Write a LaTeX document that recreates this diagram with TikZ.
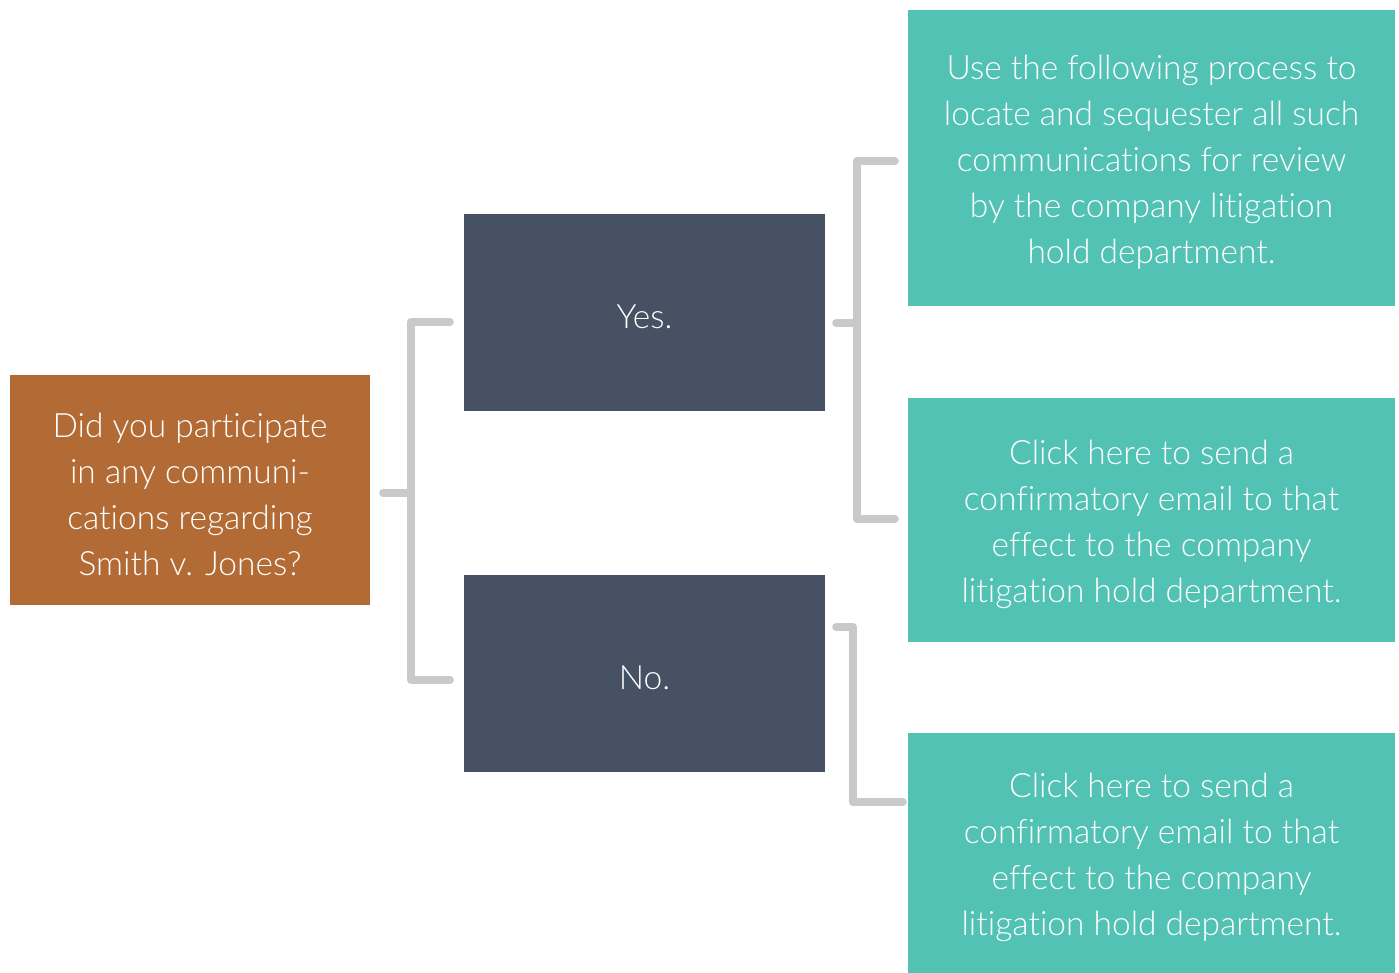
\documentclass[tikz,border=0pt]{standalone}
\usepackage{fontspec}
\setmainfont{Lato}[UprightFont=* Light, Ligatures=CommonOff]
\begin{document}
\begin{tikzpicture}[x=1pt,y=-1pt,
  box/.style={draw=none,inner sep=0pt},
  txt/.style={inner sep=0pt,align=center,text=white,yshift=-4pt,
    font=\fontsize{33.5}{46}\selectfont},
  conn/.style={draw=linegray,line width=8pt,line cap=round,line join=round}]
\definecolor{orangebox}{HTML}{B36B36}
\definecolor{slatebox}{HTML}{465163}
\definecolor{tealbox}{HTML}{52C2B5}
\definecolor{linegray}{HTML}{C8C9CB}
\useasboundingbox[fill=white] (0,0) rectangle (1399,973);
\node[box,fill=orangebox,minimum width=360pt,minimum height=230pt,
  label={[txt]center:Did you participate\\in any communi-\\cations regarding\\Smith v. Jones?}] (q) at (190,490) {};
\node[box,fill=slatebox,minimum width=361pt,minimum height=197pt,
  label={[txt]center:Yes.}] (yes) at (644.5,312.5) {};
\node[box,fill=slatebox,minimum width=361pt,minimum height=197pt,
  label={[txt]center:No.}] (no) at (644.5,673.5) {};
\node[box,fill=tealbox,minimum width=487pt,minimum height=296pt,
  label={[txt]center:Use the following process to\\locate and sequester all such\\communications for review\\by the company litigation\\hold department.}] (t1) at (1151.5,158) {};
\node[box,fill=tealbox,minimum width=487pt,minimum height=244pt,
  label={[txt]center:Click here to send a\\confirmatory email to that\\effect to the company\\litigation hold department.}] (t2) at (1151.5,520) {};
\node[box,fill=tealbox,minimum width=487pt,minimum height=240pt,
  label={[txt]center:Click here to send a\\confirmatory email to that\\effect to the company\\litigation hold department.}] (t3) at (1151.5,853) {};
% left bracket
\coordinate (qa) at ([xshift=13pt]q.east|-0,493);
\coordinate (ya) at ([xshift=-14pt]yes.west|-0,322);
\coordinate (na) at ([xshift=-14pt]no.west|-0,680);
\draw[conn] (qa) -- (411,493);
\draw[conn] (ya) -- (411,322) -- (411,680) -- (na);
% yes bracket
\coordinate (yb) at ([xshift=11pt]yes.east|-0,323);
\coordinate (t1a) at ([xshift=-13pt]t1.west|-0,161);
\coordinate (t2a) at ([xshift=-13pt]t2.west|-0,519);
\draw[conn] (yb) -- (857,323);
\draw[conn] (t1a) -- (857,161) -- (857,519) -- (t2a);
% no bracket
\coordinate (nb) at ([xshift=11pt]no.east|-0,627);
\coordinate (t3a) at ([xshift=-5pt]t3.west|-0,802);
\draw[conn] (nb) -- (853,627) -- (853,802) -- (t3a);
\end{tikzpicture}
\end{document}
